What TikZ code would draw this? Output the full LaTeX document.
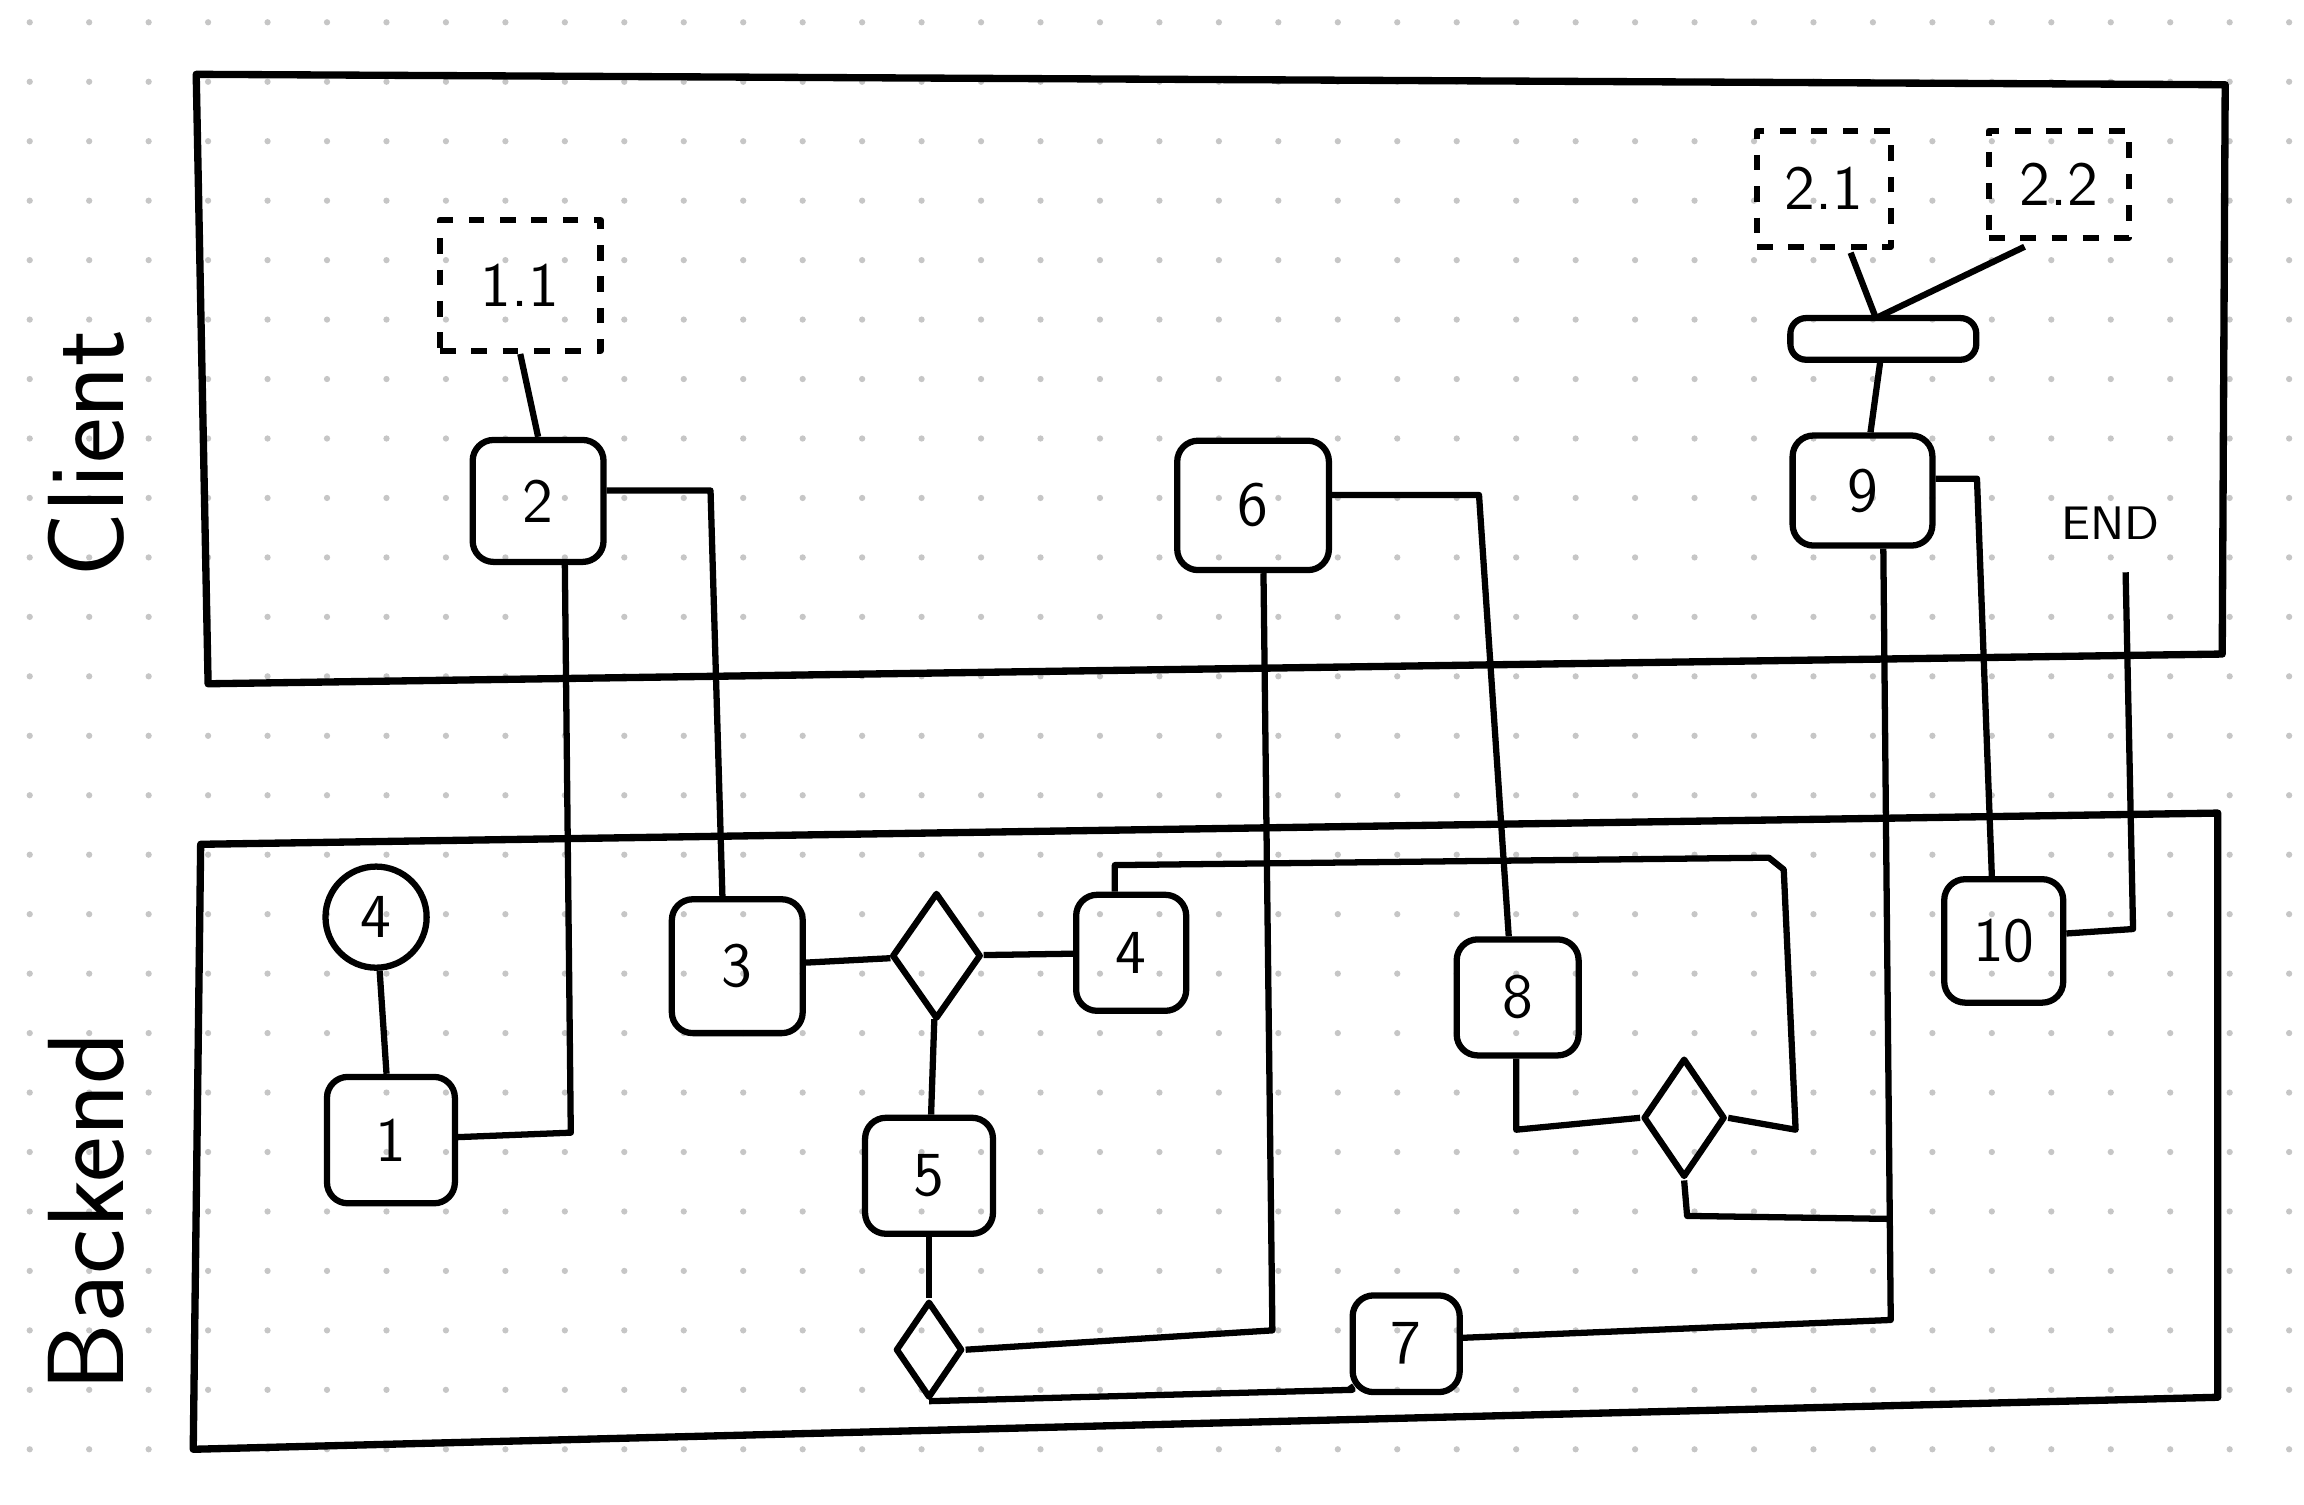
\documentclass[tikz,border=0pt]{standalone}
\usepackage{tikz}
\usetikzlibrary{shapes.geometric,positioning}
\begin{document}
\begin{tikzpicture}[
    x=0.01cm, y=-0.01cm,
    every path/.style={line width=1.2pt, line join=round},
    step box/.style={
        rectangle, draw=black, rounded corners=4pt,
        font=\sffamily\large, inner sep=0pt
    },
    sub box/.style={
        rectangle, draw=black, dashed,
        font=\sffamily\large, inner sep=0pt
    },
    choice/.style={
        diamond, draw=black, inner sep=0pt
    },
    lane/.style={draw=black, line width=1.4pt},
    link/.style={draw=black}
]
\useasboundingbox (0,0) rectangle (1550,1012);

% dotted paper
\foreach \i in {0,...,38} {
  \foreach \j in {0,...,25} {
    \fill[gray!45] (20+40*\i,15+40*\j) circle (0.6pt);
  }
}

% Lanes
\draw[lane] (132,50) -- (1497,57) -- (1495,440) -- (140,460) -- cycle;
\draw[lane] (135,568) -- (1492,547) -- (1492,940) -- (130,975) -- cycle;
\node[rotate=90, font=\sffamily\huge] (client) at (58,305) {Client};
\node[rotate=90, font=\sffamily\huge] (backend) at (58,815) {Backend};

% Client nodes
\node[sub box, minimum width=1.08cm, minimum height=0.88cm] (s11) at (350,192) {1.1};
\node[step box, minimum width=0.88cm, minimum height=0.82cm] (n2) at (362,337) {2};
\node[step box, minimum width=1.02cm, minimum height=0.87cm] (n6) at (843,340) {6};
\node[step box, minimum width=0.94cm, minimum height=0.74cm] (n9) at (1253,330) {9};
\node[rectangle, draw=black, rounded corners=3pt, minimum width=1.25cm, minimum height=0.28cm] (bar) at (1267,228) {};
\node[sub box, minimum width=0.9cm, minimum height=0.78cm] (s21) at (1227,127) {2.1};
\node[sub box, minimum width=0.94cm, minimum height=0.72cm] (s22) at (1385,124) {2.2};
\node[font=\sffamily\small] (end) at (1420,352) {END};

% Backend nodes
\node[circle, draw=black, minimum size=0.68cm, font=\sffamily\large, inner sep=0pt] (c4) at (253,617) {4};
\node[step box, minimum width=0.86cm, minimum height=0.85cm] (n1) at (263,767) {1};
\node[step box, minimum width=0.88cm, minimum height=0.9cm] (n3) at (496,650) {3};
\node[choice, minimum width=0.6cm, minimum height=0.85cm] (d1) at (630,643) {};
\node[step box, minimum width=0.74cm, minimum height=0.78cm] (n4) at (761,641) {4};
\node[step box, minimum width=0.86cm, minimum height=0.78cm] (n5) at (625,791) {5};
\node[choice, minimum width=0.45cm, minimum height=0.65cm] (d2) at (625,908) {};
\node[step box, minimum width=0.72cm, minimum height=0.65cm] (n7) at (946,904) {7};
\node[step box, minimum width=0.82cm, minimum height=0.78cm] (n8) at (1021,671) {8};
\node[choice, minimum width=0.55cm, minimum height=0.8cm] (d3) at (1133,752) {};
\node[step box, minimum width=0.8cm, minimum height=0.83cm] (n10) at (1348,633) {10};

% Connections
\draw[link] (s11.south) -- (n2.north);
\draw[link] (n2.south -| 380,0) -- (384,762) -- (n1.east |- 0,765);
\draw[link] (n2.east |- 0,330) -- (478,330) -- (486,0 |- n3.north);
\draw[link] (c4) -- (n1);
\draw[link] (n3) -- (d1);
\draw[link] (d1) -- (n4);
\draw[link] (d1) -- (n5);
\draw[link] (750,0 |- n4.north) -- (750,582) -- (1190,577) -- (1200,585) -- (1208,760) -- (d3.east);
\draw[link] (n6.south -| 850,0) -- (856,895) -- (d2.east);
\draw[link] (n5) -- (d2);
\draw[link] (d2.south) -- (910,935) -- (n7.west |- 0,932);
\draw[link] (n6.east |- 0,333) -- (995,333) -- (1015,0 |- n8.north);
\draw[link] (1020,0 |- n8.south) -- (1020,760) -- (d3.west);
\draw[link] (d3.south) -- (1135,818) -- (1270,820);
\draw[link] (n9.south -| 1267,0) -- (1272,888) -- (n7.east |- 0,900);
\draw[link] (n9.east |- 0,322) -- (1330,322) -- (1340,0 |- n10.north);
\draw[link] (n10.east |- 0,628) -- (1435,625) -- (1430,385);
\draw[link] (bar) -- (n9);
\draw[link] (1245,170) -- (1262,214);
\draw[link] (1362,166) -- (1262,214);
\end{tikzpicture}
\end{document}
